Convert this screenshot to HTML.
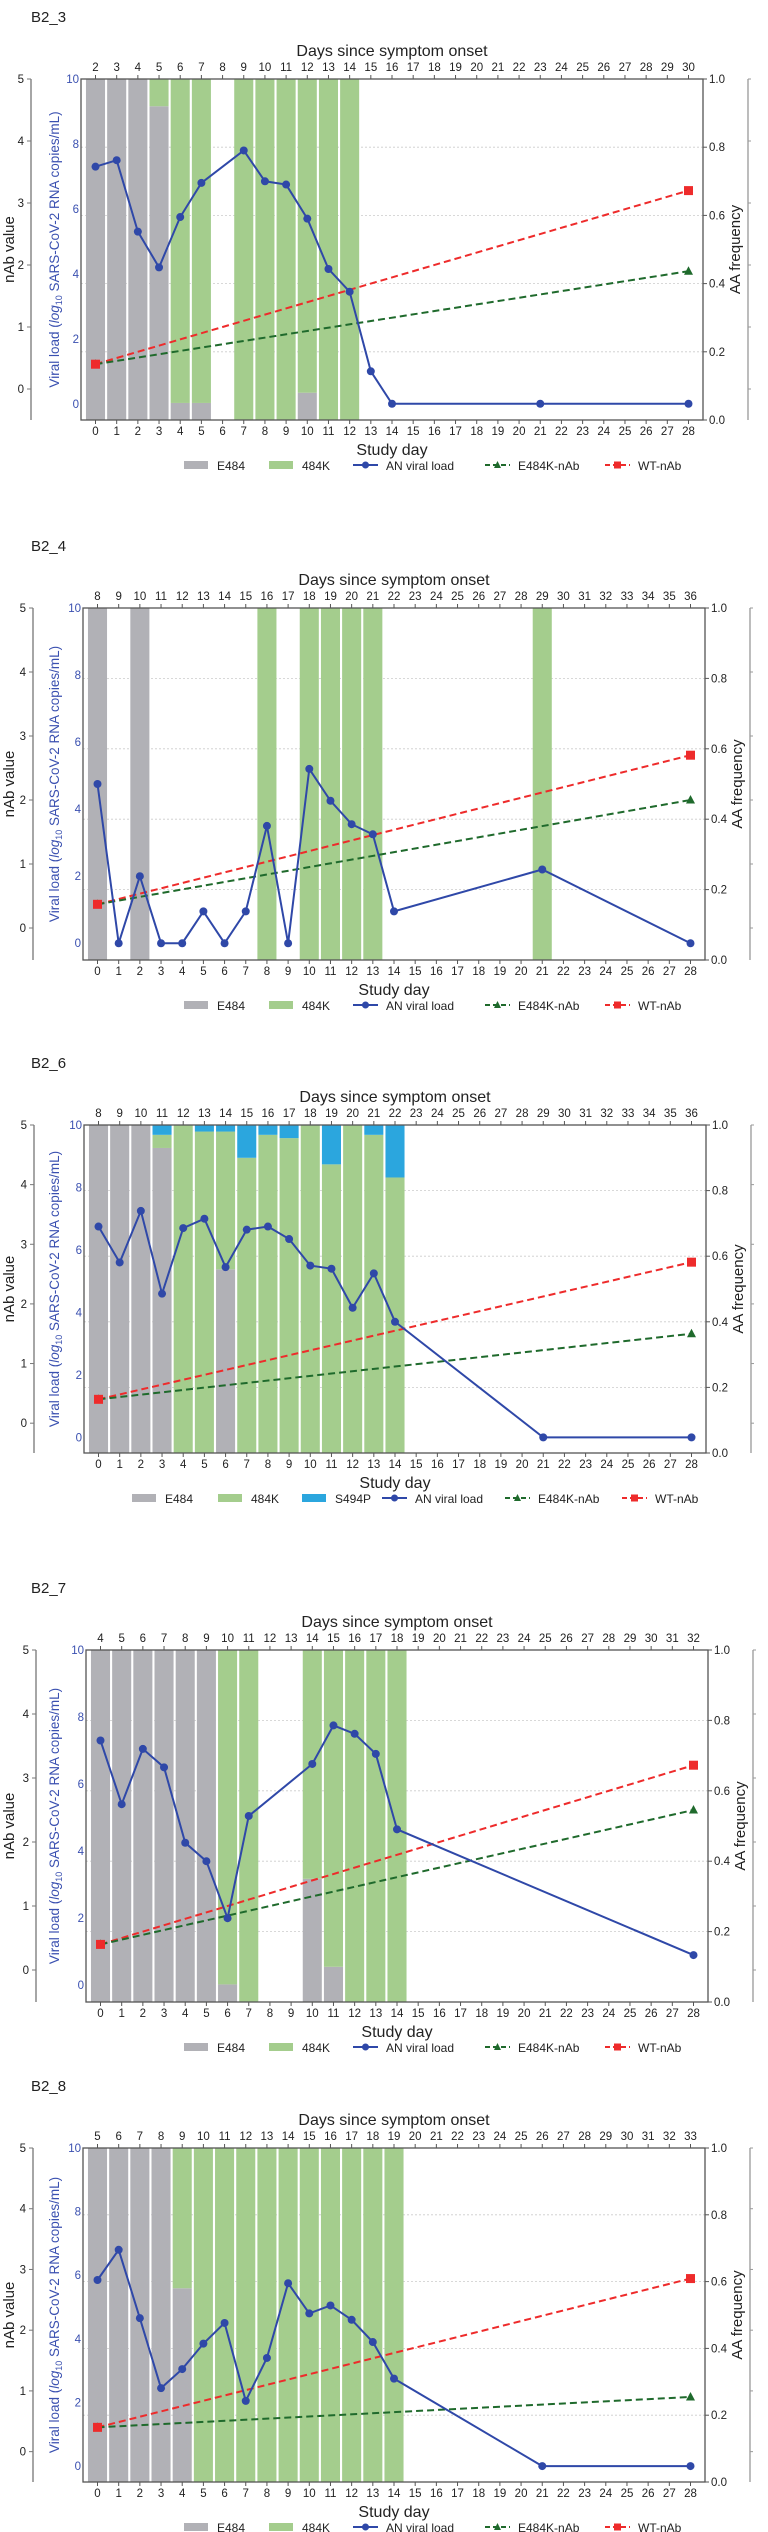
<!DOCTYPE html>
<html><head><meta charset="utf-8">
<style>
html,body{margin:0;padding:0;background:#fff;}
svg{display:block;font-family:"Liberation Sans","DejaVu Sans",sans-serif;}
</style></head>
<body>
<svg id="fig" width="768" height="2532" viewBox="0 0 768 2532" xmlns="http://www.w3.org/2000/svg"></svg>
<script>
// ---------- data ----------
const studyTicks = [0,1,2,3,4,5,6,7,8,9,10,11,12,13,14,15,16,17,18,19,20,21,22,23,24,25,26,27,28];
const nabTicks = [0,1,2,3,4,5];
const viralTicks = [0,2,4,6,8,10];
const aaTicks = [0.0,0.2,0.4,0.6,0.8,1.0];

const p1Title = "B2_3"; const p1Offset = 2;
const p1ViralDays = [0,1,2,3,4,5,7,8,9,10,11,12,13,14,21,28];
const p1Viral = [7.3,7.5,5.3,4.2,5.75,6.8,7.8,6.85,6.75,5.7,4.15,3.45,1.0,0,0,0];
const p1BarDays = [0,1,2,3,4,5,7,8,9,10,11,12];
const p1Grey = [1,1,1,0.92,0.05,0.05,0,0,0,0.08,0,0];
const p1Blue = [0,0,0,0,0,0,0,0,0,0,0,0];
const p1NabDays = [0,28];
const p1WT = [0.4,3.2];
const p1E484K = [0.4,1.9];

const p2Title = "B2_4"; const p2Offset = 8;
const p2ViralDays = [0,1,2,3,4,5,6,7,8,9,10,11,12,13,14,21,28];
const p2Viral = [4.75,0,2.0,0,0,0.95,0,0.95,3.5,0,5.2,4.25,3.55,3.25,0.95,2.2,0];
const p2BarDays = [0,2,8,10,11,12,13,21];
const p2Grey = [1,1,0,0,0,0,0,0];
const p2Blue = [0,0,0,0,0,0,0,0];
const p2NabDays = [0,28];
const p2WT = [0.37,2.7];
const p2E484K = [0.37,2.0];

const p3Title = "B2_6"; const p3Offset = 8;
const p3ViralDays = [0,1,2,3,4,5,6,7,8,9,10,11,12,13,14,21,28];
const p3Viral = [6.75,5.6,7.25,4.6,6.7,7.0,5.45,6.65,6.75,6.35,5.5,5.4,4.15,5.25,3.7,0,0];
const p3BarDays = [0,1,2,3,4,5,6,7,8,9,10,11,12,13,14];
const p3Grey = [1,1,1,0.93,0,0,0.56,0,0,0,0,0,0,0,0];
const p3Blue = [0,0,0,0.03,0,0.02,0.02,0.10,0.03,0.04,0,0.12,0,0.03,0.16];
const p3NabDays = [0,28];
const p3WT = [0.4,2.7];
const p3E484K = [0.4,1.5];

const p4Title = "B2_7"; const p4Offset = 4;
const p4ViralDays = [0,1,2,3,4,5,6,7,10,11,12,13,14,28];
const p4Viral = [7.3,5.4,7.05,6.5,4.25,3.7,2.0,5.05,6.6,7.75,7.5,6.9,4.65,0.9];
const p4BarDays = [0,1,2,3,4,5,6,7,10,11,12,13,14];
const p4Grey = [1,1,1,1,1,1,0.05,0,0.35,0.1,0,0,0];
const p4Blue = [0,0,0,0,0,0,0,0,0,0,0,0,0];
const p4NabDays = [0,28];
const p4WT = [0.4,3.2];
const p4E484K = [0.4,2.5];

const p5Title = "B2_8"; const p5Offset = 5;
const p5ViralDays = [0,1,2,3,4,5,6,7,8,9,10,11,12,13,14,21,28];
const p5Viral = [5.85,6.8,4.65,2.45,3.05,3.85,4.5,2.05,3.4,5.75,4.8,5.05,4.6,3.9,2.75,0,0];
const p5BarDays = [0,1,2,3,4,5,6,7,8,9,10,11,12,13,14];
const p5Grey = [1,1,1,1,0.58,0,0,0,0,0,0,0,0,0,0];
const p5Blue = [0,0,0,0,0,0,0,0,0,0,0,0,0,0,0];
const p5NabDays = [0,28];
const p5WT = [0.4,2.85];
const p5E484K = [0.4,0.9];

// ---------- drawing ----------
const NS = "http://www.w3.org/2000/svg";
const svg = document.getElementById('fig');
function mk(tag, attrs, parent, text){
  const e = document.createElementNS(NS, tag);
  for (const k in attrs) e.setAttribute(k, attrs[k]);
  if (text !== undefined) e.textContent = text;
  (parent||svg).appendChild(e);
  return e;
}
const GREY="#b1b1b6", GREEN="#a4cd8d", BLUE="#2ba6de", VIRAL="#2f48a8", RED="#ee2b2b", DKGREEN="#1f6a2c", AX="#555";

function drawPanel(P){
  const g = mk('g', {});
  
  
  const L=P.L, R=P.L+622, T=P.T, B=P.B, H=B-T;
  const x = d => L + 14.5 + d*(R-L-29)/28;
  const yAA = v => B - v*H;
  const yV = v => B - (v+0.5)/10.5*H;
  const yN = v => B - (v+0.5)/5.5*H;
  const dw = (R-L-29)/28;

  const title = mk('text', {x:31, y:T-57, 'font-size':15, fill:'#222'}, g, P.title);
  
  

  // gridlines
  [0.2,0.4,0.6,0.8].forEach(v=>{
    const gl = mk('line', {x1:L, x2:R, y1:yAA(v), y2:yAA(v), stroke:'#ccc', 'stroke-width':0.8, 'stroke-dasharray':'2,2'}, g);
    
    
  });

  // bars
  P.barDays.forEach((d,i)=>{
    const gr = P.grey[i], bl = P.blue[i], gn = Math.max(0, 1-gr-bl);
    const bx = x(d) - dw*0.45, bw = dw*0.9;
    if (gr>0){ const r = mk('rect',{x:bx,y:yAA(gr),width:bw,height:yAA(0)-yAA(gr),fill:GREY},g);
        }
    if (gn>0){ const r = mk('rect',{x:bx,y:yAA(gr+gn),width:bw,height:yAA(gr)-yAA(gr+gn),fill:GREEN},g);
        }
    if (bl>0){ const r = mk('rect',{x:bx,y:yAA(1),width:bw,height:yAA(gr+gn)-yAA(1),fill:BLUE},g);
        }
  });

  // nAb lines
  const wt = mk('polyline', {points:P.nabDays.map((d,i)=>x(d)+','+yN(P.wt[i])).join(' '), fill:'none', stroke:RED, 'stroke-width':2, 'stroke-dasharray':'7,4'}, g);
   
  const ek = mk('polyline', {points:P.nabDays.map((d,i)=>x(d)+','+yN(P.ek[i])).join(' '), fill:'none', stroke:DKGREEN, 'stroke-width':2, 'stroke-dasharray':'7,4'}, g);
   
  P.nabDays.forEach((d,i)=>{
    const cx=x(d), cy=yN(P.ek[i]);
    const t = mk('polygon',{points:(cx)+','+(cy-5)+' '+(cx-4.5)+','+(cy+3.5)+' '+(cx+4.5)+','+(cy+3.5), fill:DKGREEN},g);
     
  });
  P.nabDays.forEach((d,i)=>{
    const s = mk('rect',{x:x(d)-4.5,y:yN(P.wt[i])-4.5,width:9,height:9,fill:RED},g);
     
  });

  // viral load
  const vl = mk('polyline', {points:P.vDays.map((d,i)=>x(d)+','+yV(P.v[i])).join(' '), fill:'none', stroke:VIRAL, 'stroke-width':2}, g);
   
  P.vDays.forEach((d,i)=>{
    const c = mk('circle',{cx:x(d),cy:yV(P.v[i]),r:4,fill:VIRAL},g);
     
  });

  // frame
  const fr = mk('rect',{x:L,y:T,width:R-L,height:H,fill:'none',stroke:AX,'stroke-width':1.3},g);
   

  // bottom & top ticks
  studyTicks.forEach(d=>{
    mk('line',{x1:x(d),x2:x(d),y1:B,y2:B+4,stroke:AX,'stroke-width':1},g);
    const t = mk('text',{x:x(d),y:B+15,'font-size':11.5,'text-anchor':'middle',fill:'#222'},g,String(d));
     
    mk('line',{x1:x(d),x2:x(d),y1:T,y2:T-4,stroke:AX,'stroke-width':1},g);
    const t2 = mk('text',{x:x(d),y:T-8,'font-size':11.5,'text-anchor':'middle',fill:'#222'},g,String(d+P.offset));
     
  });
  const xl = mk('text',{x:(L+R)/2,y:B+35,'font-size':16,'text-anchor':'middle',fill:'#222'},g,'Study day');
   
  const tl = mk('text',{x:(L+R)/2,y:T-23,'font-size':16,'text-anchor':'middle',fill:'#222'},g,'Days since symptom onset');
   

  // nAb axis (left)
  const NX = L-50;
  mk('line',{x1:NX,x2:NX,y1:T,y2:B,stroke:'#777','stroke-width':1.3},g);
  nabTicks.forEach(v=>{
    mk('line',{x1:NX-4,x2:NX,y1:yN(v),y2:yN(v),stroke:'#777','stroke-width':1},g);
    const t = mk('text',{x:NX-7,y:yN(v)+4,'font-size':11.5,'text-anchor':'end',fill:'#222'},g,String(v));
     
  });
  const nl = mk('text',{x:0,y:0,'font-size':15,'text-anchor':'middle',fill:'#222',transform:'translate(14,'+((T+B)/2)+') rotate(-90)'},g,'nAb value');
   

  // viral axis
  viralTicks.forEach(v=>{
    const t = mk('text',{x:L-2,y:yV(v)+4,'font-size':11.5,'text-anchor':'end',fill:'#3a50b0'},g,String(v));
     
  });
  const vt = mk('text',{x:0,y:0,'font-size':13.5,'text-anchor':'middle',fill:'#3a50b0',transform:'translate(59,'+((T+B)/2)+') rotate(-90)'},g);
   
  mk('tspan',{},vt,'Viral load (');
  mk('tspan',{'font-style':'italic'},vt,'log');
  mk('tspan',{'font-size':9,dy:3},vt,'10');
  mk('tspan',{dy:-3},vt,' SARS-CoV-2 RNA copies/mL)');

  // AA axis (right)
  aaTicks.forEach(v=>{
    mk('line',{x1:R,x2:R+4,y1:yAA(v),y2:yAA(v),stroke:AX,'stroke-width':1},g);
    const t = mk('text',{x:R+6,y:yAA(v)+4,'font-size':11.5,fill:'#222'},g,v.toFixed(1));
     
  });
  const al = mk('text',{x:0,y:0,'font-size':15,'text-anchor':'middle',fill:'#222',transform:'translate('+(R+37)+','+((T+B)/2)+') rotate(-90)'},g,'AA frequency');
   
  // extra right spine
  const EX = L+667;
  mk('line',{x1:EX,x2:EX,y1:T,y2:B,stroke:'#999','stroke-width':1.3},g);
  nabTicks.forEach(v=>{ mk('line',{x1:EX,x2:EX+3,y1:yN(v),y2:yN(v),stroke:'#999','stroke-width':1},g); });

  // legend
  const LY = B+50;
  let items;
  if (P.hasBlue){
    items = [['patch',GREY,'E484',132],['patch',GREEN,'484K',218],['patch',BLUE,'S494P',302],['viral',VIRAL,'AN viral load',382],['tri',DKGREEN,'E484K-nAb',505],['sq',RED,'WT-nAb',622]];
  } else {
    items = [['patch',GREY,'E484',184],['patch',GREEN,'484K',269],['viral',VIRAL,'AN viral load',353],['tri',DKGREEN,'E484K-nAb',485],['sq',RED,'WT-nAb',605]];
  }
  items.forEach(it=>{
    const lg = mk('g',{},g);
    
    
    const lx = it[3];
    if (it[0]==='patch') mk('rect',{x:lx,y:LY-9,width:24,height:8,fill:it[1]},lg);
    else if (it[0]==='viral'){ mk('line',{x1:lx,x2:lx+25,y1:LY-5,y2:LY-5,stroke:it[1],'stroke-width':2},lg); mk('circle',{cx:lx+12.5,cy:LY-5,r:3.5,fill:it[1]},lg); }
    else if (it[0]==='tri'){ mk('line',{x1:lx,x2:lx+25,y1:LY-5,y2:LY-5,stroke:it[1],'stroke-width':2,'stroke-dasharray':'5,3'},lg); mk('polygon',{points:(lx+12.5)+','+(LY-9)+' '+(lx+9)+','+(LY-2)+' '+(lx+16)+','+(LY-2),fill:it[1]},lg); }
    else { mk('line',{x1:lx,x2:lx+25,y1:LY-5,y2:LY-5,stroke:it[1],'stroke-width':2,'stroke-dasharray':'5,3'},lg); mk('rect',{x:lx+9,y:LY-8.5,width:7,height:7,fill:it[1]},lg); }
    mk('text',{x:lx+33,y:LY,'font-size':12,fill:'#222'},lg,it[2]);
  });
}

drawPanel({title:p1Title, offset:p1Offset, L:81, T:79, B:420, vDays:p1ViralDays, v:p1Viral, barDays:p1BarDays, grey:p1Grey, blue:p1Blue, nabDays:p1NabDays, wt:p1WT, ek:p1E484K, hasBlue:false});
drawPanel({title:p2Title, offset:p2Offset, L:83, T:608, B:960, vDays:p2ViralDays, v:p2Viral, barDays:p2BarDays, grey:p2Grey, blue:p2Blue, nabDays:p2NabDays, wt:p2WT, ek:p2E484K, hasBlue:false});
drawPanel({title:p3Title, offset:p3Offset, L:84, T:1125, B:1453, vDays:p3ViralDays, v:p3Viral, barDays:p3BarDays, grey:p3Grey, blue:p3Blue, nabDays:p3NabDays, wt:p3WT, ek:p3E484K, hasBlue:true});
drawPanel({title:p4Title, offset:p4Offset, L:86, T:1650, B:2002, vDays:p4ViralDays, v:p4Viral, barDays:p4BarDays, grey:p4Grey, blue:p4Blue, nabDays:p4NabDays, wt:p4WT, ek:p4E484K, hasBlue:false});
drawPanel({title:p5Title, offset:p5Offset, L:83, T:2148, B:2482, vDays:p5ViralDays, v:p5Viral, barDays:p5BarDays, grey:p5Grey, blue:p5Blue, nabDays:p5NabDays, wt:p5WT, ek:p5E484K, hasBlue:false});
</script>
</body></html>
